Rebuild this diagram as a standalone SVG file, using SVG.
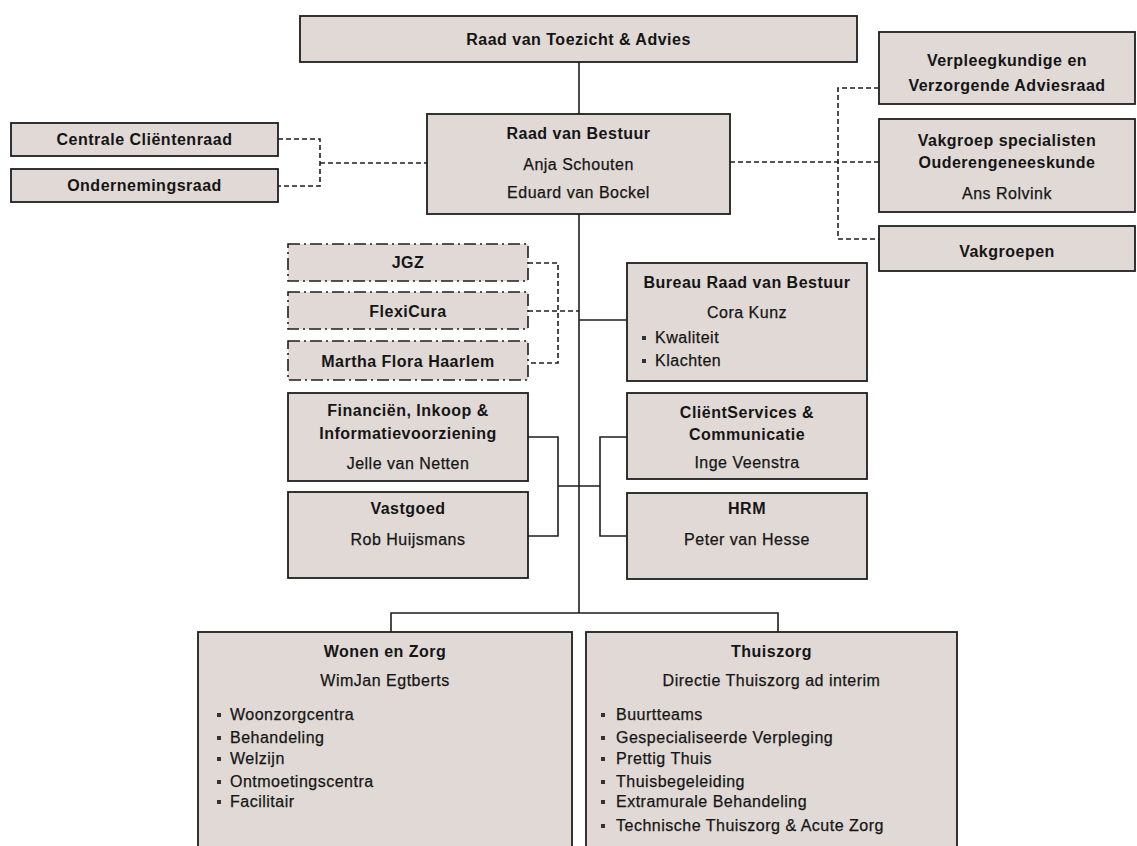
<svg xmlns="http://www.w3.org/2000/svg" width="1137" height="846" viewBox="0 0 1137 846">
<style>
.box{fill:#e1d9d5;stroke:#1e1e1e;stroke-width:1.8}
.dd{fill:#e1d9d5;stroke:#1e1e1e;stroke-width:1.6;stroke-dasharray:12 4 2 4}
.ln{fill:none;stroke:#1e1e1e;stroke-width:1.6}
.dl{fill:none;stroke:#1e1e1e;stroke-width:1.6;stroke-dasharray:5 3}
text{font-family:"Liberation Sans",Arial,sans-serif;font-size:16px;letter-spacing:0.5px;fill:#151515;stroke:#151515;stroke-width:0.25}
.t{font-weight:bold;text-anchor:middle;stroke-width:0}
.n{text-anchor:middle}
.b{fill:#333}
</style>
<rect width="1137" height="846" fill="#ffffff"/>
<g id="connectors">
<path class="ln" d="M579 62V114"/>
<path class="ln" d="M579 214V613"/>
<path class="ln" d="M391 632V613H778V632"/>
<path class="dl" d="M278 139H320V186H278M320 163H427"/>
<path class="dl" d="M730 162H879M879 88H838V239H879"/>
<path class="dl" d="M528 263H558V363H528M528 311H579"/>
<path class="ln" d="M579 320H627"/>
<path class="ln" d="M528 437H558V536H528M558 486H600M627 437H600V536H627"/>
</g>
<g id="raad-van-toezicht">
<rect class="box" x="300" y="16" width="557" height="46"/>
<text class="t" x="578.5" y="45">Raad van Toezicht &amp; Advies</text>
</g>
<g id="centrale-clientenraad">
<rect class="box" x="11" y="123" width="267" height="33"/>
<text class="t" x="144.5" y="145">Centrale Cliëntenraad</text>
</g>
<g id="ondernemingsraad">
<rect class="box" x="11" y="169" width="267" height="33"/>
<text class="t" x="144.5" y="191">Ondernemingsraad</text>
</g>
<g id="raad-van-bestuur">
<rect class="box" x="427" y="114" width="303" height="100"/>
<text class="t" x="578.5" y="139">Raad van Bestuur</text>
<text class="n" x="578.5" y="170">Anja Schouten</text>
<text class="n" x="578.5" y="198">Eduard van Bockel</text>
</g>
<g id="verpleegkundige-adviesraad">
<rect class="box" x="879" y="32" width="256" height="72"/>
<text class="t" x="1007" y="66">Verpleegkundige en</text>
<text class="t" x="1007" y="91">Verzorgende Adviesraad</text>
</g>
<g id="vakgroep-specialisten">
<rect class="box" x="879" y="119" width="256" height="93"/>
<text class="t" x="1007" y="146">Vakgroep specialisten</text>
<text class="t" x="1007" y="168">Ouderengeneeskunde</text>
<text class="n" x="1007" y="199">Ans Rolvink</text>
</g>
<g id="vakgroepen">
<rect class="box" x="879" y="226" width="256" height="45"/>
<text class="t" x="1007" y="257">Vakgroepen</text>
</g>
<g id="jgz">
<rect class="dd" x="288" y="244" width="240" height="37"/>
<text class="t" x="408" y="268">JGZ</text>
</g>
<g id="flexicura">
<rect class="dd" x="288" y="292" width="240" height="37"/>
<text class="t" x="408" y="317">FlexiCura</text>
</g>
<g id="martha-flora">
<rect class="dd" x="288" y="341" width="240" height="39"/>
<text class="t" x="408" y="367">Martha Flora Haarlem</text>
</g>
<g id="bureau-rvb">
<rect class="box" x="627" y="263" width="240" height="118"/>
<text class="t" x="747" y="288">Bureau Raad van Bestuur</text>
<text class="n" x="747" y="318">Cora Kunz</text>
<rect class="b" x="642" y="336" width="4" height="4"/>
<text x="655" y="343">Kwaliteit</text>
<rect class="b" x="642" y="359" width="4" height="4"/>
<text x="655" y="366">Klachten</text>
</g>
<g id="financien">
<rect class="box" x="288" y="393" width="240" height="88"/>
<text class="t" x="408" y="416">Financiën, Inkoop &amp;</text>
<text class="t" x="408" y="439">Informatievoorziening</text>
<text class="n" x="408" y="469">Jelle van Netten</text>
</g>
<g id="vastgoed">
<rect class="box" x="288" y="492" width="240" height="86"/>
<text class="t" x="408" y="514">Vastgoed</text>
<text class="n" x="408" y="545">Rob Huijsmans</text>
</g>
<g id="clientservices">
<rect class="box" x="627" y="393" width="240" height="86"/>
<text class="t" x="747" y="418">CliëntServices &amp;</text>
<text class="t" x="747" y="440">Communicatie</text>
<text class="n" x="747" y="468">Inge Veenstra</text>
</g>
<g id="hrm">
<rect class="box" x="627" y="493" width="240" height="86"/>
<text class="t" x="747" y="514">HRM</text>
<text class="n" x="747" y="545">Peter van Hesse</text>
</g>
<g id="wonen-en-zorg">
<rect class="box" x="198" y="632" width="374" height="220"/>
<text class="t" x="385" y="657">Wonen en Zorg</text>
<text class="n" x="385" y="686">WimJan Egtberts</text>
<rect class="b" x="217" y="713" width="4" height="4"/>
<text x="230" y="720">Woonzorgcentra</text>
<rect class="b" x="217" y="736" width="4" height="4"/>
<text x="230" y="743">Behandeling</text>
<rect class="b" x="217" y="757" width="4" height="4"/>
<text x="230" y="764">Welzijn</text>
<rect class="b" x="217" y="780" width="4" height="4"/>
<text x="230" y="787">Ontmoetingscentra</text>
<rect class="b" x="217" y="800" width="4" height="4"/>
<text x="230" y="807">Facilitair</text>
</g>
<g id="thuiszorg">
<rect class="box" x="586" y="632" width="371" height="220"/>
<text class="t" x="771.5" y="657">Thuiszorg</text>
<text class="n" x="771.5" y="686">Directie Thuiszorg ad interim</text>
<rect class="b" x="601" y="713" width="4" height="4"/>
<text x="616" y="720">Buurtteams</text>
<rect class="b" x="601" y="736" width="4" height="4"/>
<text x="616" y="743">Gespecialiseerde Verpleging</text>
<rect class="b" x="601" y="757" width="4" height="4"/>
<text x="616" y="764">Prettig Thuis</text>
<rect class="b" x="601" y="780" width="4" height="4"/>
<text x="616" y="787">Thuisbegeleiding</text>
<rect class="b" x="601" y="800" width="4" height="4"/>
<text x="616" y="807">Extramurale Behandeling</text>
<rect class="b" x="601" y="824" width="4" height="4"/>
<text x="616" y="831">Technische Thuiszorg &amp; Acute Zorg</text>
</g>
</svg>
